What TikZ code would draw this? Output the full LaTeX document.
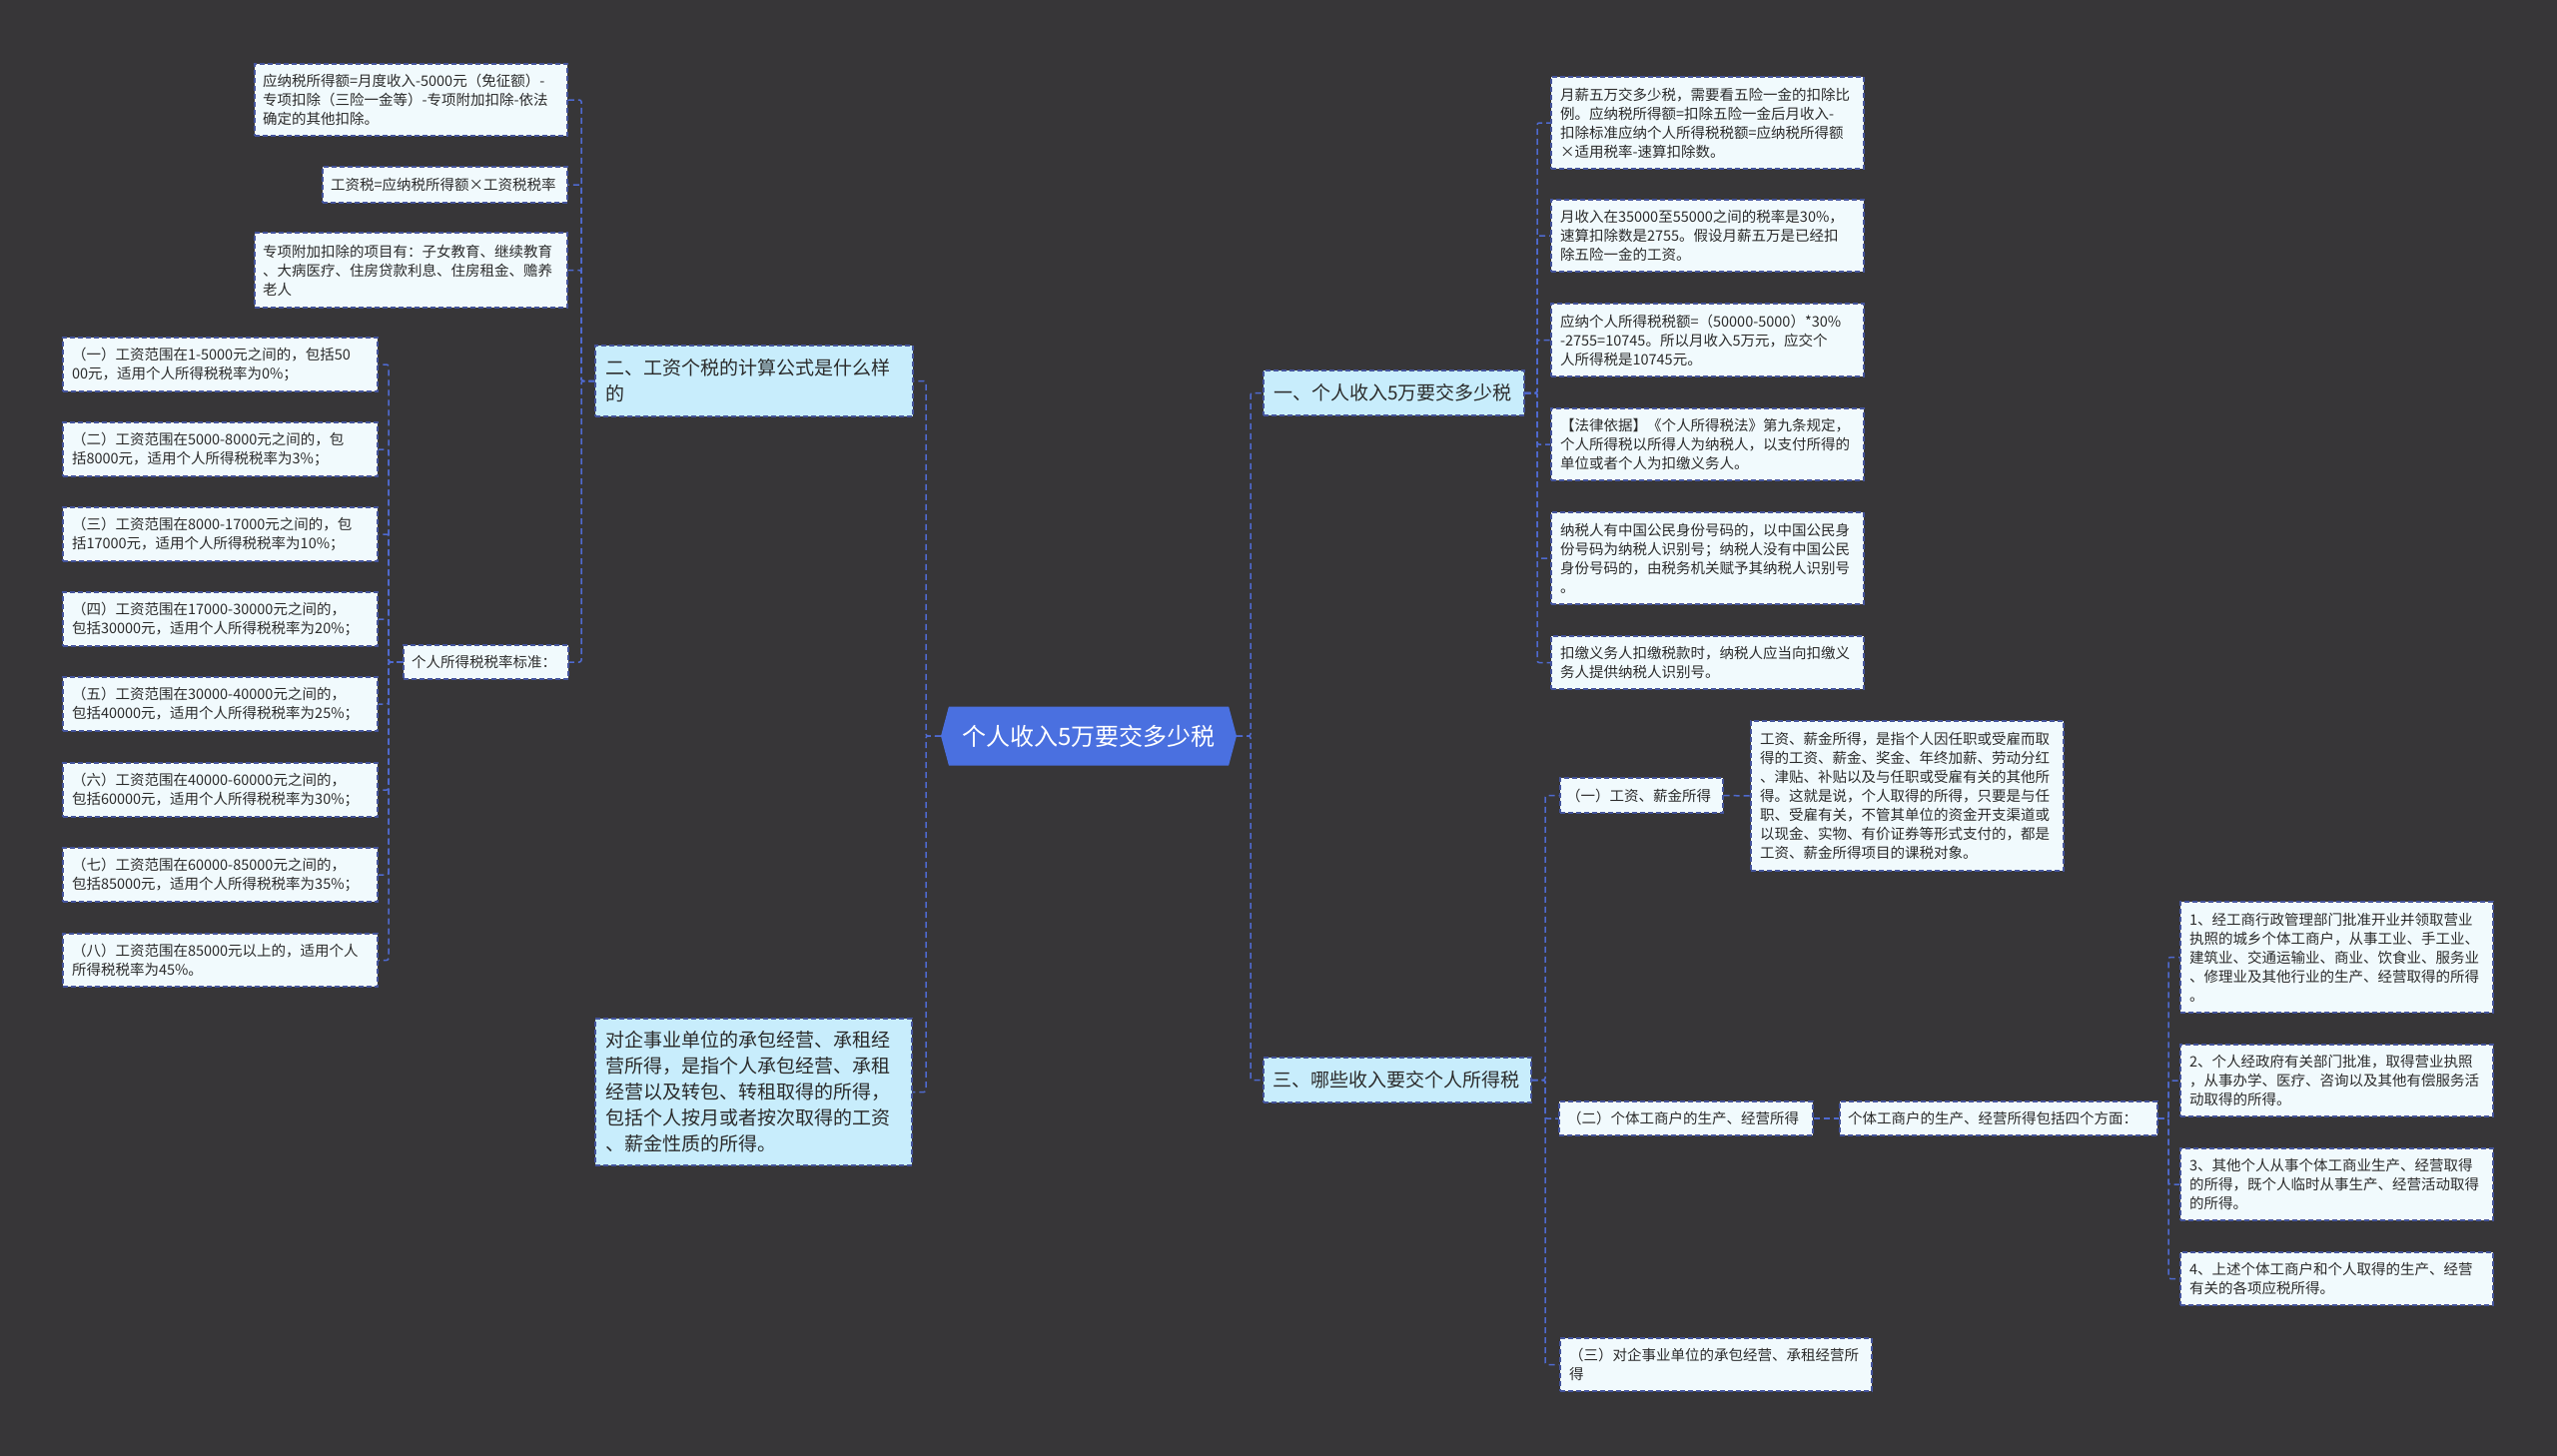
\documentclass[tikz,border=0pt]{standalone}
\usepackage{fontspec}
\newfontfamily\cjk{Noto Sans CJK SC}
\usetikzlibrary{shapes.symbols}
\definecolor{bg}{HTML}{373638}
\definecolor{leaffill}{HTML}{F1FAFD}
\definecolor{branchfill}{HTML}{C8EDFC}
\definecolor{centerfill}{HTML}{4A70E0}
\definecolor{linecol}{HTML}{4F6AD0}
\definecolor{bordercol}{HTML}{44549C}
\definecolor{txt}{HTML}{2B2B2B}
\tikzset{
 box/.style={draw=bordercol, dash pattern=on 5pt off 3pt, line width=1.4pt, inner sep=0pt, align=left, text=txt},
 leaf/.style={box, fill=leaffill, font=\cjk\fontsize{14.5}{19}\selectfont},
 branch/.style={box, fill=branchfill, font=\cjk\fontsize{19}{26}\selectfont},
 conn/.style={draw=linecol, line width=1.5pt, dash pattern=on 6pt off 4pt, rounded corners=2pt},
}
\newcommand\mybox[8]{%
 \pgfmathsetmacro\bxcx{(#3+#5)/2}%
 \pgfmathsetmacro\bxcy{(#4+#6)/2}%
 \pgfmathsetmacro\bxw{#5-#3}%
 \pgfmathsetmacro\bxh{#6-#4}%
 \pgfmathsetmacro\bxtw{#5-#3-2*#7}%
 \node[#2, minimum width=\bxw pt, minimum height=\bxh pt, text width=\bxtw pt] (#1) at (\bxcx,\bxcy) {#8};}
\begin{document}
\begin{tikzpicture}[x=1pt,y=-1pt]
\useasboundingbox (0,0) rectangle (2560,1457);
\fill[bg] (-10,-10) rectangle (2570,1467);

% center
\node[signal, signal to=west and east, signal pointer angle=150, fill=centerfill, text=white,
  font=\cjk\fontsize{24}{28}\selectfont, minimum width=296pt, minimum height=59pt, inner sep=0pt]
  (center) at (1090,737) {个人收入5万要交多少税};

% left branch 二
\mybox{er}{branch}{596}{346}{914}{417}{10}{二、工资个税的计算公式是什么样\\的}
\mybox{qy}{branch}{596}{1020}{913}{1167}{10}{对企事业单位的承包经营、承租经\\营所得，是指个人承包经营、承租\\经营以及转包、转租取得的所得，\\包括个人按月或者按次取得的工资\\、薪金性质的所得。}

\mybox{fa}{leaf}{255}{64}{568}{136}{8}{应纳税所得额=月度收入-5000元（免征额）-\\专项扣除（三险一金等）-专项附加扣除-依法\\确定的其他扣除。}
\mybox{fb}{leaf}{323}{167}{568}{203}{8}{工资税=应纳税所得额×工资税税率}
\mybox{fc}{leaf}{255}{233}{568}{308}{8}{专项附加扣除的项目有：子女教育、继续教育\\、大病医疗、住房贷款利息、住房租金、赡养\\老人}
\mybox{std}{leaf}{404}{646}{569}{680}{8}{个人所得税税率标准：}

\mybox{t1}{leaf}{63}{338}{378}{392}{9}{（一）工资范围在1-5000元之间的，包括50\\00元，适用个人所得税税率为0\%；}
\mybox{t2}{leaf}{63}{423}{378}{477}{9}{（二）工资范围在5000-8000元之间的，包\\括8000元，适用个人所得税税率为3\%；}
\mybox{t3}{leaf}{63}{508}{378}{562}{9}{（三）工资范围在8000-17000元之间的，包\\括17000元，适用个人所得税税率为10\%；}
\mybox{t4}{leaf}{63}{593}{378}{647}{9}{（四）工资范围在17000-30000元之间的，\\包括30000元，适用个人所得税税率为20\%；}
\mybox{t5}{leaf}{63}{678}{378}{732}{9}{（五）工资范围在30000-40000元之间的，\\包括40000元，适用个人所得税税率为25\%；}
\mybox{t6}{leaf}{63}{764}{378}{818}{9}{（六）工资范围在40000-60000元之间的，\\包括60000元，适用个人所得税税率为30\%；}
\mybox{t7}{leaf}{63}{849}{378}{903}{9}{（七）工资范围在60000-85000元之间的，\\包括85000元，适用个人所得税税率为35\%；}
\mybox{t8}{leaf}{63}{935}{378}{988}{9}{（八）工资范围在85000元以上的，适用个人\\所得税税率为45\%。}

% right branch 一
\mybox{yi}{branch}{1265}{371}{1526}{416}{10}{一、个人收入5万要交多少税}
\mybox{r1}{leaf}{1553}{77}{1866}{169}{9}{月薪五万交多少税，需要看五险一金的扣除比\\例。应纳税所得额=扣除五险一金后月收入-\\扣除标准应纳个人所得税税额=应纳税所得额\\×适用税率-速算扣除数。}
\mybox{r2}{leaf}{1553}{200}{1866}{272}{9}{月收入在35000至55000之间的税率是30\%，\\速算扣除数是2755。假设月薪五万是已经扣\\除五险一金的工资。}
\mybox{r3}{leaf}{1553}{304}{1866}{377}{9}{应纳个人所得税税额=（50000-5000）*30\%\\-2755=10745。所以月收入5万元，应交个\\人所得税是10745元。}
\mybox{r4}{leaf}{1553}{409}{1866}{481}{9}{【法律依据】《个人所得税法》第九条规定，\\个人所得税以所得人为纳税人，以支付所得的\\单位或者个人为扣缴义务人。}
\mybox{r5}{leaf}{1553}{513}{1866}{605}{9}{纳税人有中国公民身份号码的，以中国公民身\\份号码为纳税人识别号；纳税人没有中国公民\\身份号码的，由税务机关赋予其纳税人识别号\\。}
\mybox{r6}{leaf}{1553}{637}{1866}{690}{9}{扣缴义务人扣缴税款时，纳税人应当向扣缴义\\务人提供纳税人识别号。}

% right branch 三
\mybox{san}{branch}{1265}{1059}{1533}{1104}{9}{三、哪些收入要交个人所得税}
\mybox{s1}{leaf}{1562}{779}{1725}{814}{6}{（一）工资、薪金所得}
\mybox{s1t}{leaf}{1753}{722}{2066}{872}{9}{工资、薪金所得，是指个人因任职或受雇而取\\得的工资、薪金、奖金、年终加薪、劳动分红\\、津贴、补贴以及与任职或受雇有关的其他所\\得。这就是说，个人取得的所得，只要是与任\\职、受雇有关，不管其单位的资金开支渠道或\\以现金、实物、有价证券等形式支付的，都是\\工资、薪金所得项目的课税对象。}
\mybox{s2}{leaf}{1561}{1103}{1815}{1137}{8}{（二）个体工商户的生产、经营所得}
\mybox{s2t}{leaf}{1842}{1103}{2160}{1137}{8}{个体工商户的生产、经营所得包括四个方面：}
\mybox{s3}{leaf}{1562}{1340}{1874}{1393}{9}{（三）对企事业单位的承包经营、承租经营所\\得}
\mybox{p1}{leaf}{2183}{903}{2496}{1014}{9}{1、经工商行政管理部门批准开业并领取营业\\执照的城乡个体工商户，从事工业、手工业、\\建筑业、交通运输业、商业、饮食业、服务业\\、修理业及其他行业的生产、经营取得的所得\\。}
\mybox{p2}{leaf}{2183}{1046}{2496}{1118}{9}{2、个人经政府有关部门批准，取得营业执照\\，从事办学、医疗、咨询以及其他有偿服务活\\动取得的所得。}
\mybox{p3}{leaf}{2183}{1150}{2496}{1222}{9}{3、其他个人从事个体工商业生产、经营取得\\的所得，既个人临时从事生产、经营活动取得\\的所得。}
\mybox{p4}{leaf}{2183}{1254}{2496}{1307}{9}{4、上述个体工商户和个人取得的生产、经营\\有关的各项应税所得。}

% buses
\coordinate (busA) at (582,0);
\coordinate (busL) at (389,0);
\coordinate (busC) at (927,0);
\coordinate (busR) at (1252,0);
\coordinate (busR1) at (1539,0);
\coordinate (busR3) at (1547,0);
\coordinate (busP) at (2171,0);

% connectors
\foreach \c in {er,qy} \draw[conn] (center.west) -| (busC |- \c.east) -- (\c.east);
\foreach \c in {yi,san} \draw[conn] (center.east) -| (busR |- \c.west) -- (\c.west);
\foreach \c in {fa,fb,fc,std} \draw[conn] (er.west) -| (busA |- \c.east) -- (\c.east);
\foreach \c in {t1,t2,t3,t4,t5,t6,t7,t8} \draw[conn] (std.west) -| (busL |- \c.east) -- (\c.east);
\foreach \c in {r1,r2,r3,r4,r5,r6} \draw[conn] (yi.east) -| (busR1 |- \c.west) -- (\c.west);
\foreach \c in {s1,s2,s3} \draw[conn] (san.east) -| (busR3 |- \c.west) -- (\c.west);
\draw[conn] (s1.east) -- (s1t.west);
\draw[conn] (s2.east) -- (s2t.west);
\foreach \c in {p1,p2,p3,p4} \draw[conn] (s2t.east) -| (busP |- \c.west) -- (\c.west);
\end{tikzpicture}
\end{document}
